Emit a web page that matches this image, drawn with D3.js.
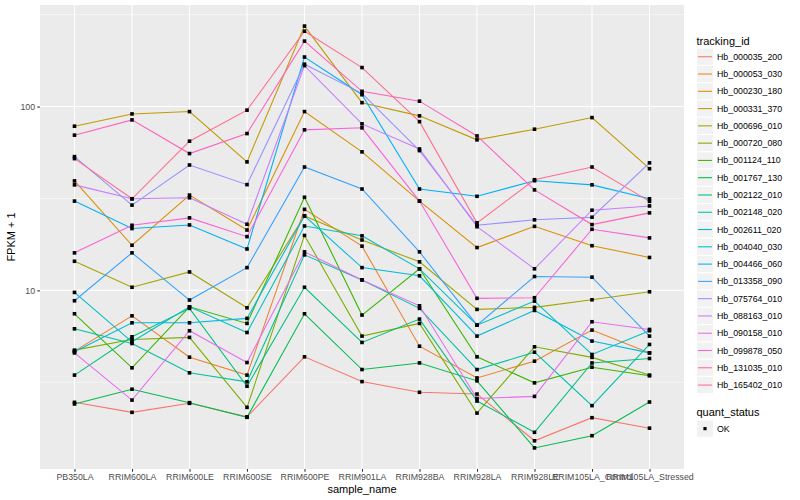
<!DOCTYPE html>
<html>
<head>
<meta charset="utf-8">
<script src="https://cdn.jsdelivr.net/npm/d3@7"></script>
<style>
  body { margin: 0; background: #fff; }
  svg { font-family: "Liberation Sans", Arial, Helvetica, sans-serif; }
</style>
</head>
<body>
<svg id="chart" width="800" height="500"></svg>
<script>
// samples along the x axis
const samples = ['PB350LA', 'RRIM600LA', 'RRIM600LE', 'RRIM600SE', 'RRIM600PE', 'RRIM901LA',
  'RRIM928BA', 'RRIM928LA', 'RRIM928LE', 'RRIM105LA_Control', 'RRIM105LA_Stressed'];

const trackingIds = ['Hb_000035_200', 'Hb_000053_030', 'Hb_000230_180', 'Hb_000331_370', 'Hb_000696_010',
  'Hb_000720_080', 'Hb_001124_110', 'Hb_001767_130', 'Hb_002122_010', 'Hb_002148_020',
  'Hb_002611_020', 'Hb_004040_030', 'Hb_004466_060', 'Hb_013358_090', 'Hb_075764_010',
  'Hb_088163_010', 'Hb_090158_010', 'Hb_099878_050', 'Hb_131035_010', 'Hb_165402_010'];

// FPKM + 1, one value per sample
const hb_000035_200 = [2.46, 2.17, 2.43, 2.05, 4.35, 3.19, 2.79, 2.73, 1.52, 2.03, 1.78];
const hb_000053_030 = [4.67, 7.27, 4.33, 3.46, 27.6, 17.4, 4.97, 3.34, 4.12, 6.08, 4.57];
const hb_000230_180 = [39.4, 17.6, 33.0, 21.3, 93.9, 56.7, 30.6, 17.1, 22.3, 17.5, 15.1];
const hb_000331_370 = [78.2, 91.2, 93.9, 50.0, 274, 105, 89.0, 65.9, 75.3, 87.1, 45.9];
const hb_000696_010 = [14.4, 10.4, 12.6, 8.04, 25.4, 18.8, 14.3, 7.88, 8.08, 8.89, 9.83];
const hb_000720_080 = [4.73, 5.41, 5.55, 2.31, 19.9, 5.64, 6.61, 2.15, 4.93, 4.32, 3.46];
const hb_001124_110 = [7.46, 3.79, 8.14, 6.61, 32.1, 7.34, 13.1, 4.35, 3.14, 3.82, 3.43];
const hb_001767_130 = [2.41, 2.90, 2.45, 2.04, 7.46, 3.71, 4.03, 3.22, 1.39, 1.62, 2.47];
const hb_002122_010 = [3.46, 5.59, 7.98, 3.01, 10.4, 5.21, 6.98, 2.50, 1.69, 4.03, 4.26];
const hb_002148_020 = [6.18, 5.14, 3.56, 3.18, 15.6, 11.4, 7.98, 3.71, 4.61, 2.36, 5.08];
const hb_002611_020 = [9.75, 5.25, 8.14, 5.90, 22.4, 19.8, 13.1, 6.47, 8.74, 4.48, 6.03];
const hb_004040_030 = [4.63, 6.66, 6.66, 7.04, 25.4, 13.3, 12.0, 5.64, 7.78, 5.30, 4.57];
const hb_004466_060 = [30.6, 21.7, 22.7, 16.8, 186, 116, 35.6, 32.5, 39.5, 37.5, 31.5];
const hb_013358_090 = [8.78, 16.0, 8.86, 13.3, 46.9, 35.6, 16.2, 6.47, 11.9, 11.8, 5.64];
const hb_075764_010 = [53.4, 29.1, 48.1, 37.6, 170, 118, 57.6, 22.6, 24.2, 25.0, 49.4];
const hb_088163_010 = [37.5, 31.5, 31.9, 22.9, 167, 80.5, 58.8, 22.2, 13.1, 27.3, 28.8];
const hb_090158_010 = [4.57, 2.53, 6.03, 4.05, 16.2, 11.4, 8.24, 2.58, 2.65, 6.75, 6.13];
const hb_099878_050 = [16.0, 22.6, 24.8, 19.6, 74.7, 76.6, 30.6, 9.05, 9.12, 21.5, 19.3];
const hb_131035_010 = [69.9, 84.6, 55.5, 71.3, 227, 121, 107, 69.2, 35.2, 22.8, 26.4];
const hb_165402_010 = [52.1, 31.5, 64.8, 95.6, 257, 163, 82.8, 23.3, 40.0, 46.9, 30.5];

const seriesValues = [hb_000035_200, hb_000053_030, hb_000230_180, hb_000331_370, hb_000696_010,
  hb_000720_080, hb_001124_110, hb_001767_130, hb_002122_010, hb_002148_020,
  hb_002611_020, hb_004040_030, hb_004466_060, hb_013358_090, hb_075764_010,
  hb_088163_010, hb_090158_010, hb_099878_050, hb_131035_010, hb_165402_010];

const yTicks = [10, 100];
const yMinor = [Math.sqrt(10), Math.sqrt(1000), Math.sqrt(100000)];
const quantStatus = ['OK'];

// layout
const width = 800, height = 500;
const panel = { left: 40, right: 684, top: 5, bottom: 469 };

const series = trackingIds.map((id, i) => ({
  id,
  values: samples.map((s, j) => ({ sample: s, value: seriesValues[i][j] }))
}));

const svg = d3.select('#chart');

// ggplot-like hue palette
const color = d3.scaleOrdinal()
  .domain(trackingIds)
  .range(['#F8766D', '#EA8331', '#D89000', '#C09B00', '#A3A500', '#7CAE00', '#39B600', '#00BB4E',
    '#00BF7D', '#00C1A3', '#00BFC4', '#00BAE0', '#00B0F6', '#35A2FF', '#9590FF', '#C77CFF',
    '#E76BF3', '#FA62DB', '#FF62BC', '#FF6C91']);

const x = d3.scalePoint()
  .domain(samples)
  .range([panel.left, panel.right])
  .padding(0.6);

// log scale with 5% expansion like ggplot
const ext = d3.extent(seriesValues.flat()).map(Math.log10);
const pad = (ext[1] - ext[0]) * 0.05;
const y = d3.scaleLog()
  .domain([Math.pow(10, ext[0] - pad), Math.pow(10, ext[1] + pad)])
  .range([panel.bottom, panel.top]);

// panel background
svg.append('rect')
  .attr('x', panel.left)
  .attr('y', panel.top)
  .attr('width', panel.right - panel.left)
  .attr('height', panel.bottom - panel.top)
  .attr('fill', '#EBEBEB');

// grid
const grid = svg.append('g');
grid.selectAll('.minor')
  .data(yMinor)
  .enter().append('line')
  .attr('x1', panel.left).attr('x2', panel.right)
  .attr('y1', d => y(d)).attr('y2', d => y(d))
  .attr('stroke', '#fff').attr('stroke-width', 0.53);
grid.selectAll('.majory')
  .data(yTicks)
  .enter().append('line')
  .attr('x1', panel.left).attr('x2', panel.right)
  .attr('y1', d => y(d)).attr('y2', d => y(d))
  .attr('stroke', '#fff').attr('stroke-width', 1.07);
grid.selectAll('.majorx')
  .data(samples)
  .enter().append('line')
  .attr('x1', d => x(d)).attr('x2', d => x(d))
  .attr('y1', panel.top).attr('y2', panel.bottom)
  .attr('stroke', '#fff').attr('stroke-width', 1.07);

// lines
const line = d3.line()
  .x(d => x(d.sample))
  .y(d => y(d.value));

svg.append('g')
  .selectAll('path')
  .data(series)
  .enter().append('path')
  .attr('fill', 'none')
  .attr('stroke', d => color(d.id))
  .attr('stroke-width', 1.07)
  .attr('d', d => line(d.values));

// points
const pts = series.flatMap(d => d.values);
const sq = 3.6;
svg.append('g')
  .selectAll('rect')
  .data(pts)
  .enter().append('rect')
  .attr('x', d => x(d.sample) - sq / 2)
  .attr('y', d => y(d.value) - sq / 2)
  .attr('width', sq)
  .attr('height', sq)
  .attr('fill', '#000');

// axes
const xAxis = svg.append('g')
  .attr('transform', `translate(0,${panel.bottom})`)
  .call(d3.axisBottom(x).tickSize(2.75).tickPadding(2.2));
const yAxis = svg.append('g')
  .attr('transform', `translate(${panel.left},0)`)
  .call(d3.axisLeft(y).tickValues(yTicks).tickFormat(d3.format('d')).tickSize(2.75).tickPadding(2.2));

[xAxis, yAxis].forEach(g => {
  g.select('.domain').remove();
  g.selectAll('line').attr('stroke', '#333333').attr('stroke-width', 1.07);
  g.selectAll('text')
    .attr('fill', '#4D4D4D')
    .style('font-size', '8.8px')
    .style('font-family', '"Liberation Sans", Arial, sans-serif');
});

// axis titles
svg.append('text')
  .attr('x', (panel.left + panel.right) / 2)
  .attr('y', 493)
  .attr('text-anchor', 'middle')
  .style('font-size', '11px')
  .text('sample_name');

svg.append('text')
  .attr('transform', `translate(15,${(panel.top + panel.bottom) / 2}) rotate(-90)`)
  .attr('text-anchor', 'middle')
  .style('font-size', '11px')
  .text('FPKM + 1');

// legend: tracking_id
const legX = 696.5, keyW = 17, keyH = 17.28;
const leg = svg.append('g');
leg.append('text')
  .attr('x', legX)
  .attr('y', 44.5)
  .style('font-size', '11px')
  .text('tracking_id');

const keys = leg.selectAll('.key')
  .data(trackingIds)
  .enter().append('g')
  .attr('transform', (d, i) => `translate(${legX},${48.1 + i * keyH})`);

keys.append('rect')
  .attr('width', keyW)
  .attr('height', keyH)
  .attr('fill', '#F2F2F2')
  .attr('stroke', '#fff')
  .attr('stroke-width', 1);

keys.append('line')
  .attr('x1', 1.5).attr('x2', keyW - 1.5)
  .attr('y1', keyH / 2).attr('y2', keyH / 2)
  .attr('stroke', d => color(d))
  .attr('stroke-width', 1.07);

keys.append('text')
  .attr('x', keyW + 3.5)
  .attr('y', keyH / 2)
  .attr('dy', '0.35em')
  .style('font-size', '8.8px')
  .text(d => d);

// legend: quant_status
const leg2 = svg.append('g');
leg2.append('text')
  .attr('x', legX)
  .attr('y', 416)
  .style('font-size', '11px')
  .text('quant_status');

const qk = leg2.selectAll('.qkey')
  .data(quantStatus)
  .enter().append('g')
  .attr('transform', (d, i) => `translate(${legX},${420 + i * keyH})`);

qk.append('rect')
  .attr('width', keyW)
  .attr('height', keyH)
  .attr('fill', '#F2F2F2')
  .attr('stroke', '#fff');

qk.append('rect')
  .attr('x', keyW / 2 - 1.6)
  .attr('y', keyH / 2 - 1.6)
  .attr('width', 3.2)
  .attr('height', 3.2)
  .attr('fill', '#000');

qk.append('text')
  .attr('x', keyW + 3.5)
  .attr('y', keyH / 2)
  .attr('dy', '0.35em')
  .style('font-size', '8.8px')
  .text(d => d);
</script>
</body>
</html>
